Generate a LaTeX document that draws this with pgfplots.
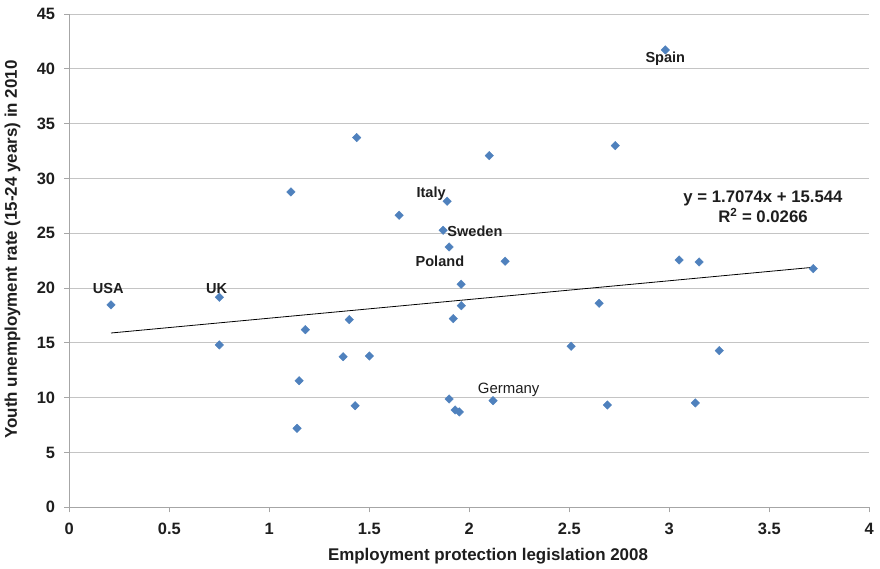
\documentclass[border=0pt]{standalone}
\usepackage{pgfplots}
\pgfplotsset{compat=1.18}
\usepackage{fontspec}
\setmainfont{Liberation Sans}
\definecolor{pt}{HTML}{4F81BD}
\definecolor{gridc}{HTML}{C4C4C4}
\definecolor{axc}{HTML}{A6A6A6}
\definecolor{txt}{HTML}{1E1E1E}
\begin{document}
\begin{tikzpicture}
\useasboundingbox (0,0) rectangle (880bp,569bp);
\begin{axis}[
  at={(69.3bp,61.7bp)}, anchor=south west,
  width=800bp, height=493.3bp, scale only axis,
  xmin=0, xmax=4, ymin=0, ymax=45,
  axis x line*=bottom, axis y line*=left,
  axis line style={axc, line width=0.8pt, -},
  xtick={0,0.5,...,4}, ytick={0,5,...,45},
  tick style={axc, line width=0.8pt},
  tick align=outside, major tick length=5bp,
  ymajorgrids, grid style={gridc, line width=0.9pt},
  /pgf/number format/assume math mode=true,
  ticklabel style={font=\fontsize{16.5}{18}\selectfont\bfseries, text=txt, inner sep=0pt},
  xticklabel style={yshift=-11bp},
  yticklabel style={xshift=-9bp},
  xlabel={\textbf{Employment protection legislation 2008}},
  ylabel={\textbf{Youth unemployment rate (15-24 years) in 2010}},
  label style={font=\fontsize{17}{19}\selectfont, text=txt, inner sep=0pt},
  xlabel style={at={(axis cs:2.0935,-4.5)}, anchor=center},
  ylabel style={at={(axis cs:-0.284,23.52)}, anchor=center},
  clip=false,
]
\addplot[only marks, mark=square*, mark size=3bp, mark options={rotate=45, fill=pt, draw=pt}] coordinates {
(0.2085,18.46) (0.75,19.16) (0.75,14.81) (1.108,28.77) (1.139,7.2) (1.149,11.55)
(1.18,16.2) (1.369,13.74) (1.40,17.12) (1.429,9.27) (1.437,33.73) (1.50,13.8)
(1.649,26.64) (1.869,25.27) (1.889,27.92) (1.899,23.75) (1.899,9.88) (1.92,17.21)
(1.929,8.88) (1.95,8.70) (1.959,20.35) (1.96,18.39) (2.10,32.08) (2.119,9.73)
(2.179,22.45) (2.509,14.69) (2.649,18.61) (2.69,9.33) (2.73,32.99) (2.98,41.72)
(3.049,22.56) (3.13,9.52) (3.149,22.38) (3.25,14.29) (3.72,21.77)
};
\addplot[black, line width=0.8pt] coordinates {(0.2085,15.90) (3.72,21.895)};
\begin{scope}[every node/.style={font=\fontsize{14.6}{16}\selectfont\bfseries, text=txt, inner sep=0pt}]
\node at (axis cs:2.98,40.9) {Spain};
\node at (axis cs:1.809,28.57) {Italy};
\node at (axis cs:2.028,25.2) {Sweden};
\node at (axis cs:1.853,22.47) {Poland};
\node[font=\fontsize{15}{16}\selectfont] at (axis cs:2.197,10.70) {Germany};
\node at (axis cs:0.195,19.92) {USA};
\node at (axis cs:0.737,19.96) {UK};
\node[align=center, font=\fontsize{16.8}{19.5}\selectfont\bfseries] at (axis cs:3.4685,27.4) {y = 1.7074x + 15.544\\R\textsuperscript{2} = 0.0266};
\end{scope}
\end{axis}
\end{tikzpicture}
\end{document}
